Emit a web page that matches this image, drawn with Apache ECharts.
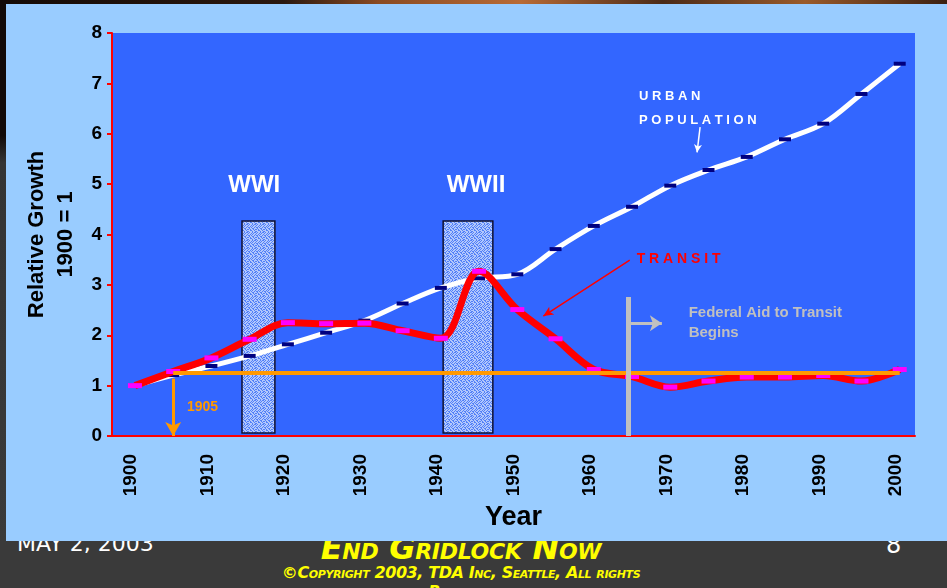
<!DOCTYPE html>
<html>
<head>
<meta charset="utf-8">
<title>Relative Growth</title>
<script src="https://cdn.jsdelivr.net/npm/echarts@6/dist/echarts.min.js"></script>
<style>
    html, body { margin: 0; padding: 0; }
    body { width: 947px; height: 588px; overflow: hidden; position: relative; background: #3a3a3a; }
    .abs { position: absolute; }
    #topstrip { left: 0; top: 0; width: 947px; height: 5px;
        background: linear-gradient(90deg, #140a06 0%, #2a1810 30%, #8a4a22 40%, #b86a35 55%, #4a2a18 70%, #9a5a2a 85%, #3a2012 100%); }
    #leftstrip { left: 0; top: 0; width: 6px; height: 542px; background: linear-gradient(180deg, #120a08 0%, #120a08 25%, #343434 30%, #3a3a3a 100%); }
    #panel { left: 6px; top: 4px; width: 941px; height: 537px; background: #99ccff; }
    .foot { color: #fff; font-family: "DejaVu Sans", sans-serif; white-space: nowrap; }
    .yellow { color: #ffff00; font-weight: bold; font-style: italic; font-variant: small-caps; text-align: center; }
    #chart { left: 0; top: 0; width: 947px; height: 588px; }
</style>
</head>
<body>
<div class="abs foot" style="left:17px;top:533px;font-size:22px;line-height:22px;">MAY 2, 2003</div>
<div class="abs foot" style="left:886px;top:533px;font-size:24px;line-height:24px;">8</div>
<div class="abs foot yellow" style="left:211px;top:532px;width:500px;font-size:32px;line-height:32px;letter-spacing:-0.3px;">End Gridlock Now</div>
<div class="abs foot yellow" style="left:211px;top:563px;width:500px;font-size:16px;line-height:19px;letter-spacing:-0.4px;">©Copyright 2003, TDA Inc, Seattle, All rights<br>Reserved</div>
<div id="topstrip" class="abs"></div>
<div id="leftstrip" class="abs"></div>
<div id="panel" class="abs"></div>
<div id="chart" class="abs"></div>
<script>
    // 数据
    var years = [1900, 1905, 1910, 1915, 1920, 1925, 1930, 1935, 1940, 1945, 1950,
                 1955, 1960, 1965, 1970, 1975, 1980, 1985, 1990, 1995, 2000];
    var yearLabels = ['1900', '1905', '1910', '1915', '1920', '1925', '1930', '1935', '1940', '1945', '1950',
                      '1955', '1960', '1965', '1970', '1975', '1980', '1985', '1990', '1995', '2000'];
    var urban = [1.00, 1.21, 1.39, 1.59, 1.82, 2.05, 2.29, 2.63, 2.94, 3.13, 3.21,
                 3.71, 4.17, 4.55, 4.97, 5.28, 5.54, 5.89, 6.20, 6.79, 7.39];
    var transit = [1.00, 1.28, 1.55, 1.92, 2.25, 2.23, 2.24, 2.09, 1.94, 3.27, 2.51,
                   1.93, 1.32, 1.18, 0.97, 1.09, 1.17, 1.17, 1.20, 1.09, 1.32];
    var yTicks = [0, 1, 2, 3, 4, 5, 6, 7, 8];

    var FONT = '"Liberation Sans", Arial, sans-serif';

    function zip(xs, ys) {
        return xs.map(function (x, i) { return [x, ys[i]]; });
    }

    // 方框的斑点纹理 (固定图案, 半透明)
    function speckle() {
        var rows = ['10110100', '01101011', '11010110', '00101101', '10110011', '01011010', '11001101', '01110110'];
        var c = document.createElement('canvas');
        c.width = 8; c.height = 8;
        var ctx = c.getContext('2d');
        rows.forEach(function (row, y) {
            for (var x = 0; x < 8; x++) {
                ctx.fillStyle = row[x] === '1' ? 'rgba(228,238,251,0.72)' : 'rgba(120,160,240,0.45)';
                ctx.fillRect(x, y, 1, 1);
            }
        });
        return c;
    }

    function textPoint(coord, text, style) {
        return {
            coord: coord,
            symbol: 'circle',
            symbolSize: 0,
            label: Object.assign({
                show: true,
                formatter: text,
                position: [0, 0],
                align: 'left',
                verticalAlign: 'top',
                fontFamily: FONT,
                fontWeight: 'bold'
            }, style)
        };
    }

    function seg(from, to, color, width, arrow) {
        return [
            {coord: from, symbol: 'none', lineStyle: {color: color, width: width, type: 'solid'}},
            {coord: to, symbol: arrow ? 'arrow' : 'none', symbolSize: arrow || 0}
        ];
    }

    var chart = echarts.init(document.getElementById('chart'), null, {renderer: 'canvas'});
    var option = {
        animation: false,
        backgroundColor: 'transparent',
        grid: {
            left: 112, top: 33, width: 803, height: 403,
            show: true, backgroundColor: '#3366ff', borderWidth: 0
        },
        xAxis: [{
            type: 'category',
            data: yearLabels,
            boundaryGap: true,
            name: 'Year',
            nameLocation: 'middle',
            nameGap: 63,
            nameTextStyle: {fontFamily: FONT, fontWeight: 'bold', fontSize: 27, color: '#000', verticalAlign: 'top'},
            axisLine: {lineStyle: {color: '#ff0000', width: 2}},
            axisTick: {interval: 0, length: 6, lineStyle: {color: '#ff0000', width: 2}},
            axisLabel: {
                interval: 1, rotate: 90, margin: 18,
                fontFamily: FONT, fontWeight: 'bold', fontSize: 19, color: '#000'
            },
            splitLine: {show: false}
        }, {
            type: 'value',
            min: 1897, max: 2002,
            show: false,
            splitLine: {show: false}
        }],
        yAxis: {
            type: 'value',
            min: yTicks[0], max: yTicks[yTicks.length - 1], interval: 1,
            name: 'Relative Growth\n1900 = 1',
            nameLocation: 'middle',
            nameRotate: 90,
            nameGap: 28,
            nameTextStyle: {fontFamily: FONT, fontWeight: 'bold', fontSize: 22, lineHeight: 29, color: '#000'},
            axisLine: {show: true, lineStyle: {color: '#ff0000', width: 2}},
            axisTick: {show: true, length: 5, lineStyle: {color: '#ff0000', width: 2}},
            axisLabel: {margin: 10, fontFamily: FONT, fontWeight: 'bold', fontSize: 19, color: '#000'},
            splitLine: {show: false}
        },
        series: [
            {
                name: 'Urban Population',
                type: 'line',
                xAxisIndex: 1,
                data: zip(years, urban),
                smooth: 0.35,
                z: 2,
                lineStyle: {color: '#ffffff', width: 5},
                symbol: 'rect',
                symbolSize: [12, 4],
                itemStyle: {color: '#000080'},
                emphasis: {disabled: true}
            },
            {
                name: 'Transit',
                type: 'line',
                xAxisIndex: 1,
                data: zip(years, transit),
                smooth: 0.35,
                z: 3,
                lineStyle: {color: '#ff0000', width: 7},
                symbol: 'rect',
                symbolSize: [14, 5],
                itemStyle: {color: '#ff00ff'},
                emphasis: {disabled: true}
            },
            {
                // 战争时期
                name: 'wars',
                type: 'line',
                xAxisIndex: 1,
                data: [],
                z: 4,
                silent: true,
                markArea: {
                    silent: true,
                    itemStyle: {color: {image: speckle(), repeat: 'repeat'}, opacity: 1, borderColor: '#101030', borderWidth: 1.5},
                    label: {show: false},
                    data: [
                        [{xAxis: 1914.0, yAxis: 0.06}, {xAxis: 1918.3, yAxis: 4.27}],
                        [{xAxis: 1940.3, yAxis: 0.06}, {xAxis: 1946.8, yAxis: 4.27}]
                    ]
                }
            },
            {
                name: 'notes',
                type: 'line',
                xAxisIndex: 1,
                data: [],
                z: 5,
                silent: true,
                markLine: {
                    silent: true,
                    label: {show: false},
                    data: [
                        seg([1905, 1.26], [2000, 1.26], '#ff9900', 4),
                        seg([1905, 1.14], [1905, 0], '#ff9900', 3, [12, 14]),
                        seg([1964.5, 2.76], [1964.5, 0], '#c0c0c0', 5),
                        seg([1964.5, 2.24], [1968.9, 2.24], '#c0c0c0', 3, [12, 12]),
                        seg([1973.9, 6.13], [1973.5, 5.63], '#ffffff', 1.5, [6, 8]),
                        seg([1964.7, 3.49], [1953.4, 2.38], '#ff0000', 1.5, [7, 10])
                    ]
                },
                markPoint: {
                    silent: true,
                    data: [
                        textPoint([1915.6, 4.98], 'WWI', {position: 'inside', align: 'center', verticalAlign: 'middle', color: '#fff', fontSize: 24}),
                        textPoint([1944.6, 4.98], 'WWII', {position: 'inside', align: 'center', verticalAlign: 'middle', color: '#fff', fontSize: 24}),
                        textPoint([1965.9, 6.97], 'U R B A N\nP O P U L A T I O N', {color: '#fff', fontSize: 13, lineHeight: 24}),
                        textPoint([1965.6, 3.67], 'T R A N S I T', {color: '#ff0000', fontSize: 14, lineHeight: 16}),
                        textPoint([1972.4, 2.64], 'Federal Aid to Transit\nBegins', {color: '#c0c0c0', fontSize: 15, lineHeight: 20}),
                        textPoint([1906.8, 0.73], '1905', {color: '#ff9900', fontSize: 14, lineHeight: 16})
                    ]
                }
            }
        ]
    };
    chart.setOption(option);

    window.onresize = function () {
        chart.resize();
    };
</script>
</body>
</html>
